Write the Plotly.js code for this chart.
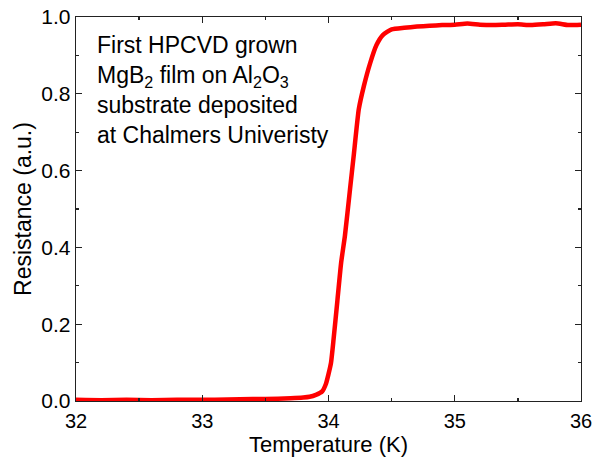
<!DOCTYPE html>
<html>
<head>
<meta charset="utf-8">
<script src="https://cdn.plot.ly/plotly-3.0.1.min.js"></script>
<style>
  html, body { margin: 0; padding: 0; background: #fff; }
  #chart { width: 597px; height: 457px; }
</style>
</head>
<body>
<div id="chart"></div>
<script>
const temperature = [32.0, 32.2, 32.4, 32.6, 32.8, 33.0, 33.2, 33.4, 33.6, 33.7, 33.8, 33.85, 33.9, 33.95, 33.98, 34.0, 34.02, 34.04, 34.07, 34.10, 34.13, 34.17, 34.20, 34.24, 34.28, 34.33, 34.38, 34.43, 34.5, 34.6, 34.7, 34.8, 34.9, 35.0, 35.1, 35.2, 35.3, 35.4, 35.5, 35.6, 35.7, 35.8, 35.9, 36.0];
const resistance = [0.003, 0.002, 0.003, 0.002, 0.003, 0.003, 0.004, 0.005, 0.006, 0.007, 0.009, 0.011, 0.016, 0.025, 0.045, 0.07, 0.10, 0.16, 0.26, 0.36, 0.43, 0.55, 0.64, 0.76, 0.82, 0.88, 0.927, 0.953, 0.968, 0.972, 0.975, 0.977, 0.979, 0.980, 0.983, 0.980, 0.979, 0.980, 0.981, 0.979, 0.981, 0.984, 0.979, 0.980];
const xTickVals = [32, 33, 34, 35, 36];
const yTickVals = [0.0, 0.2, 0.4, 0.6, 0.8, 1.0];
const xTitle = "Temperature (K)";
const yTitle = "Resistance (a.u.)";
const noteLines = ["First HPCVD grown", "MgB<sub>2</sub> film on Al<sub>2</sub>O<sub>3</sub>", "substrate deposited", "at Chalmers Univeristy"];

const FONT = "Liberation Sans, Arial, sans-serif";

const trace = {
  x: temperature,
  y: resistance,
  mode: "lines",
  line: { color: "#ff0000", width: 4.5, shape: "spline", smoothing: 0.5 },
  hoverinfo: "skip",
  showlegend: false
};

const axisCommon = {
  showline: true,
  linecolor: "#222",
  linewidth: 1.3,
  mirror: "ticks",
  ticks: "inside",
  ticklen: 6,
  tickwidth: 1.3,
  tickcolor: "#222",
  showgrid: false,
  zeroline: false,
  tickfont: { family: FONT, size: 20, color: "#000" }
};

const layout = {
  width: 597,
  height: 457,
  margin: { l: 76, r: 16, t: 17, b: 56 },
  paper_bgcolor: "#fff",
  plot_bgcolor: "#fff",
  font: { family: FONT, color: "#000" },
  xaxis: Object.assign({}, axisCommon, {
    range: [32, 36],
    tickvals: xTickVals,
    ticktext: xTickVals.map(v => String(v)),
    ticklabelstandoff: 2,
    minor: { dtick: 0.5, tick0: 32, ticks: "inside", ticklen: 3, tickwidth: 1.3, tickcolor: "#222", showgrid: false },
    title: { text: xTitle, font: { family: FONT, size: 22, color: "#000" }, standoff: 2 }
  }),
  yaxis: Object.assign({}, axisCommon, {
    range: [0, 1.0],
    tickvals: yTickVals,
    ticktext: yTickVals.map(v => v.toFixed(1)),
    tickfont: { family: FONT, size: 21, color: "#000" },
    minor: { dtick: 0.1, tick0: 0, ticks: "inside", ticklen: 3, tickwidth: 1.3, tickcolor: "#222", showgrid: false },
    title: { text: yTitle, font: { family: FONT, size: 23, color: "#000" }, standoff: 3 }
  }),
  annotations: [{
    xref: "paper", yref: "paper",
    x: 0.0376, y: 0.965,
    xanchor: "left", yanchor: "top",
    align: "left",
    showarrow: false,
    text: noteLines.join("<br>"),
    font: { family: FONT, size: 23, color: "#000" }
  }]
};

Plotly.newPlot("chart", [trace], layout, { staticPlot: true, displayModeBar: false });
</script>
</body>
</html>
